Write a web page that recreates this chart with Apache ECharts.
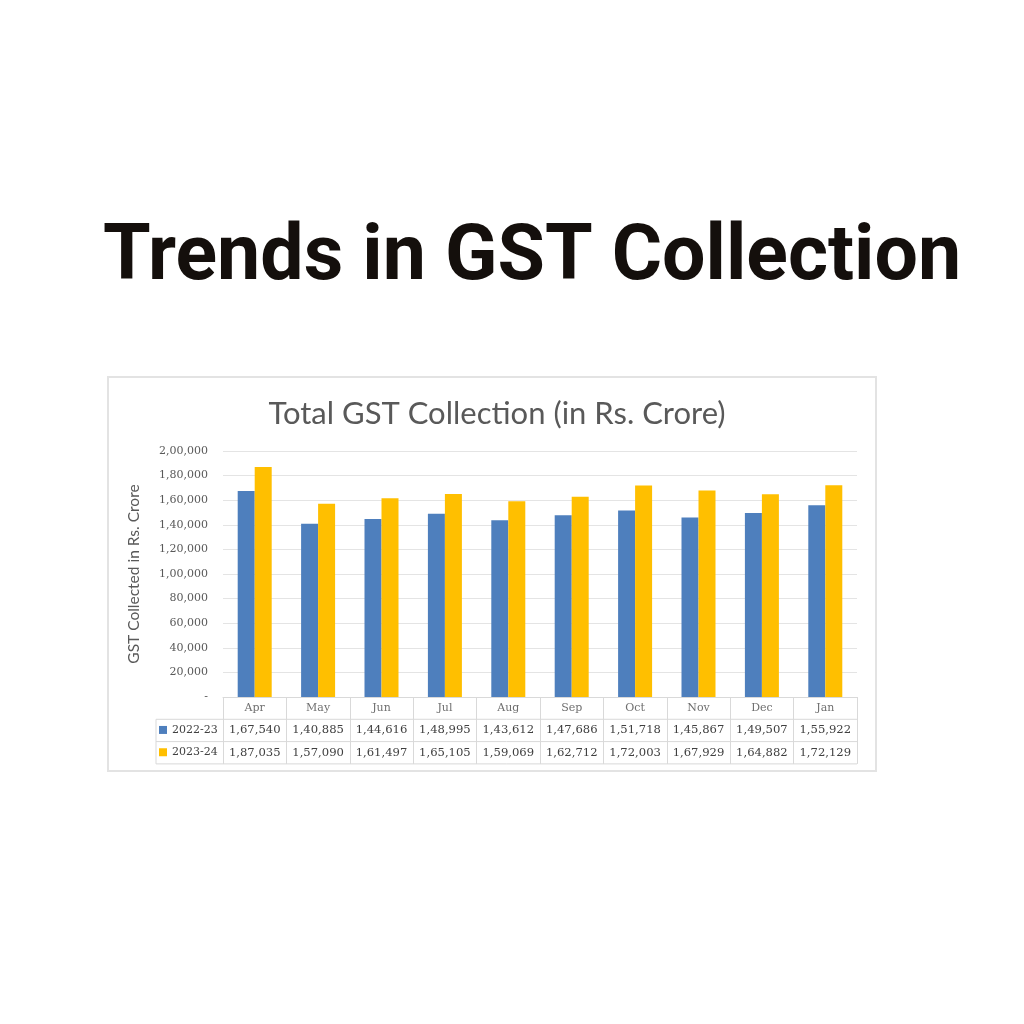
<!DOCTYPE html>
<html>
<head>
<meta charset="utf-8">
<script src="https://cdn.jsdelivr.net/npm/echarts@6/dist/echarts.min.js"></script>
<style>html,body{margin:0;padding:0;background:#fff;}#c{width:1024px;height:1024px;}</style>
</head>
<body>
<div id="c"></div>
<script>
const months = ['Apr','May','Jun','Jul','Aug','Sep','Oct','Nov','Dec','Jan'];
const seriesNames = ['2022-23','2023-24'];
const fy2223 = [167540,140885,144616,148995,143612,147686,151718,145867,149507,155922];
const fy2324 = [187035,157090,161497,165105,159069,162712,172003,167929,164882,172129];
const yTicks = {min:0, max:200000, interval:20000};

function inr(n){
  const s = String(n);
  if (s.length <= 3) return s;
  const last3 = s.slice(-3);
  let rest = s.slice(0,-3);
  rest = rest.replace(/\B(?=(\d{2})+(?!\d))/g, ',');
  return rest + ',' + last3;
}

const chart = echarts.init(document.getElementById('c'));
const GRID = {left:223, right:167, top:451, bottom:327};
const ROW = 22.3;
const LINE = '#d9d9d9';
const serif = 'DejaVu Serif';

chart.setOption({
  backgroundColor:'#ffffff',
  animation:false,
  title:[
    {text:'Trends in GST Collection', left:527, top:216, textAlign:'center',
     textStyle:{fontFamily:'Roboto', fontWeight:'bold', fontSize:77, color:'#140f0c'}},
    {text:'Total GST Collection (in Rs. Crore)', left:492, top:393, textAlign:'center',
     textStyle:{fontFamily:'Lato', fontWeight:'normal', fontSize:31, color:'#595959'}}
  ],
  legend:{
    orient:'vertical', left:159, top:GRID.top + 246 + ROW - 0.5, padding:0, itemGap:0,
    itemWidth:8, itemHeight:8, icon:'rect',
    textStyle:{fontFamily:serif, fontSize:11, color:'#404040', lineHeight:ROW},
    data:seriesNames
  },
  grid:GRID,
  xAxis:{
    type:'category', data:months,
    axisLine:{show:true, lineStyle:{color:LINE, width:1}},
    axisTick:{show:true, interval:0, length:ROW*3, lineStyle:{color:LINE}},
    axisLabel:{
      interval:0, margin:0,
      formatter:function(v, i){
        return '{m|' + v + '}\n{v|' + inr(fy2223[i]) + '}\n{v|' + inr(fy2324[i]) + '}';
      },
      rich:{
        m:{fontFamily:serif, fontSize:11, color:'#6f6f6f', lineHeight:ROW},
        v:{fontFamily:serif, fontSize:11.6, color:'#404040', lineHeight:ROW}
      }
    }
  },
  yAxis:{
    type:'value', min:yTicks.min, max:yTicks.max, interval:yTicks.interval,
    name:'GST Collected in Rs. Crore', nameLocation:'middle', nameGap:81, nameRotate:90,
    nameTextStyle:{fontFamily:'Lato', fontSize:15.5, color:'#595959'},
    axisLine:{show:false}, axisTick:{show:false},
    axisLabel:{margin:15, fontFamily:serif, fontSize:11, color:'#595959',
      formatter:function(v){ return v === 0 ? '-' : inr(v); }},
    splitLine:{lineStyle:{color:'#e4e4e4', width:1}}
  },
  series:[
    {name:seriesNames[0], type:'bar', data:fy2223, barWidth:17, barGap:'0%',
     itemStyle:{color:'#4e7fbd'}},
    {name:seriesNames[1], type:'bar', data:fy2324, barWidth:17, barGap:'0%',
     itemStyle:{color:'#ffbf00'}}
  ]
});

// table frame decoration derived from the grid rectangle
const gm = chart.getModel().getComponent('grid');
const r = gm.coordinateSystem.getRect();
const y0 = r.y + r.height;
const tl = 156;
const elements = [
  {type:'rect', z:-10, shape:{x:108, y:377, width:768, height:394},
   style:{fill:'#ffffff', stroke:'#e3e3e3', lineWidth:2}}
];
for (let k = 1; k <= 3; k++) {
  elements.push({type:'line', z:5, shape:{x1:tl, y1:y0 + ROW*k, x2:r.x + r.width, y2:y0 + ROW*k},
    style:{stroke:LINE, lineWidth:1}});
}
elements.push({type:'line', z:5, shape:{x1:tl, y1:y0 + ROW, x2:tl, y2:y0 + ROW*3},
  style:{stroke:LINE, lineWidth:1}});
chart.setOption({graphic:{elements:elements}});
</script>
</body>
</html>
